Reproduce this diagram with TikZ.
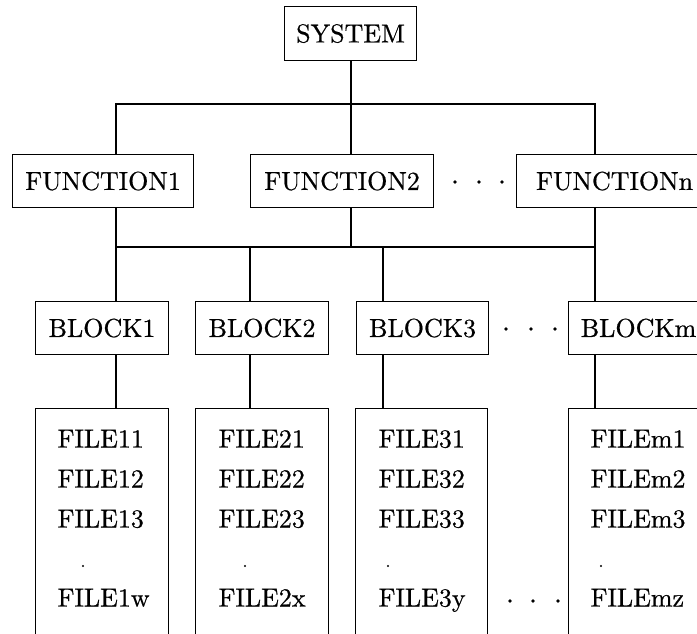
\documentclass[tikz,border=0pt]{standalone}
\usepackage{fontspec}
\newfontfamily\chartfamily{lmroman10-regular.otf}[FakeBold=0.6]
\newcommand\chartfont{\chartfamily\fontsize{26}{31}\selectfont}
\begin{document}
\begin{tikzpicture}[x=1pt,y=-1pt,line width=1.1pt,
  every node/.style={font=\chartfont},
  box/.style={draw,rectangle,inner sep=0pt,anchor=north west,minimum height=53pt},
  filebox/.style={draw,rectangle,inner sep=0pt,anchor=north west,minimum height=260pt},
  entry/.style={anchor=base west,inner sep=0pt},
  dotmark/.style={fill=black}]
\useasboundingbox (0,0) rectangle (697,633);
\clip (0,0) rectangle (697,633);

% columns where the connectors run
\coordinate (t1) at (116,0);
\coordinate (t2) at (351,0);
\coordinate (tn) at (595,0);
\coordinate (k2) at (250,0);
\coordinate (k3) at (383,0);
\coordinate (busA) at (351,104);
\coordinate (busB) at (351,247);

% top level
\node[box,minimum width=132pt,minimum height=54pt] (sys) at (284,6) {SYSTEM};

% functions
\node[box,minimum width=181pt] (f1) at (12,154) {FUNCTION1};
\node[box,minimum width=183pt] (f2) at (250,154) {FUNCTION2};
\node[box,minimum width=196pt] (fn) at (516,154) {FUNCTIONn};
\foreach \x in {455,479,502} \fill[dotmark] (\x,182) circle (1.8);

% blocks
\node[box,minimum width=133pt] (b1) at (35,301) {BLOCK1};
\node[box,minimum width=133pt] (b2) at (195,301) {BLOCK2};
\node[box,minimum width=132pt] (b3) at (356,301) {BLOCK3};
\node[box,minimum width=140pt] (bm) at (568,301) {BLOCKm};
\foreach \x in {506,531,555} \fill[dotmark] (\x,329) circle (1.8);

% file lists (open at the bottom)
\node[filebox,minimum width=133pt] (fb1) at (35,408) {};
\node[filebox,minimum width=133pt] (fb2) at (195,408) {};
\node[filebox,minimum width=132pt] (fb3) at (355,408) {};
\node[filebox,minimum width=148pt] (fbm) at (568,408) {};

\node[entry] (e11) at (57,447.5) {FILE11};
\node[entry] (e12) at (57,487.5) {FILE12};
\node[entry] (e13) at (57,527.5) {FILE13};
\node[entry] (e1w) at (57,606.5) {FILE1w};
\node[entry] (e21) at (218,447.5) {FILE21};
\node[entry] (e22) at (218,487.5) {FILE22};
\node[entry] (e23) at (218,527.5) {FILE23};
\node[entry] (e2x) at (218,606.5) {FILE2x};
\node[entry] (e31) at (378,447.5) {FILE31};
\node[entry] (e32) at (378,487.5) {FILE32};
\node[entry] (e33) at (378,527.5) {FILE33};
\node[entry] (e3y) at (378,606.5) {FILE3y};
\node[entry] (em1) at (590,447.5) {FILEm1};
\node[entry] (em2) at (590,487.5) {FILEm2};
\node[entry] (em3) at (590,527.5) {FILEm3};
\node[entry] (emz) at (590,606.5) {FILEmz};
\foreach \x in {83,245,388,601} \fill[dotmark] (\x,566) circle (1.2);
\foreach \x in {510,533,558} \fill[dotmark] (\x,601) circle (1.8);

% system to functions
\draw (sys.south -| t2) -- (busA);
\draw (t1 |- f1.north) -- (t1 |- busA) -- (tn |- busA) -- (tn |- fn.north);
\draw (busA) -- (t2 |- f2.north);

% functions to blocks
\draw (t1 |- f1.south) -- (t1 |- b1.north);
\draw (t2 |- f2.south) -- (busB);
\draw (tn |- fn.south) -- (tn |- bm.north);
\draw (t1 |- busB) -- (tn |- busB);
\draw (k2 |- busB) -- (k2 |- b2.north);
\draw (k3 |- busB) -- (k3 |- b3.north);

% blocks to files
\draw (t1 |- b1.south) -- (t1 |- fb1.north);
\draw (k2 |- b2.south) -- (k2 |- fb2.north);
\draw (k3 |- b3.south) -- (k3 |- fb3.north);
\draw (tn |- bm.south) -- (tn |- fbm.north);
\end{tikzpicture}
\end{document}
